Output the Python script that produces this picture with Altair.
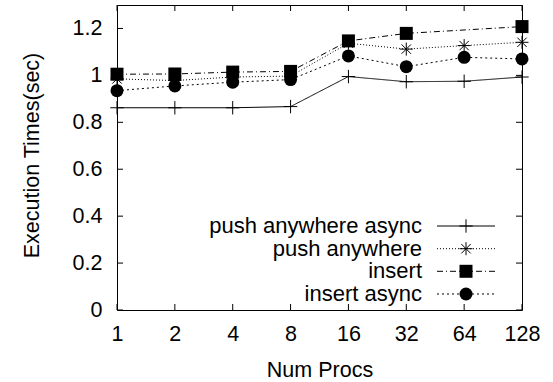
import altair as alt
import pandas as pd

# ---- data ----
procs = ["1", "2", "4", "8", "16", "32", "64", "128"]
series_names = ["push anywhere async", "push anywhere", "insert", "insert async"]
push_anywhere_async = [0.862, 0.862, 0.862, 0.867, 0.995, 0.973, 0.975, 0.993]
push_anywhere = [0.985, 0.978, 0.993, 0.997, 1.137, 1.112, 1.127, 1.141]
insert = [1.005, 1.006, 1.014, 1.017, 1.147, 1.179, None, 1.208]
insert_async = [0.935, 0.955, 0.971, 0.982, 1.083, 1.037, 1.077, 1.070]
y_ticks = [0, 0.2, 0.4, 0.6, 0.8, 1.0, 1.2]

values = [push_anywhere_async, push_anywhere, insert, insert_async]
rows = []
for name, vals in zip(series_names, values):
    for p, v in zip(procs, vals):
        if v is not None:
            rows.append({"series": name, "procs": p, "time": v})
df = pd.DataFrame(rows)

# ---- styles ----
FONT = "Liberation Sans"
FS = 21.5
LFS = 22
W, H = 405, 305
PLUS = "M-1,0H1M0,-1V1"
STAR = "M-1,0H1M0,-1V1M-0.72,-0.72L0.72,0.72M-0.72,0.72L0.72,-0.72"
dashes = [[1, 0], [1, 2], [6, 3, 1, 3], [2, 3]]
shapes = [PLUS, STAR, "square", "circle"]
filled = [False, False, True, True]
msize = [180, 169, 169, 169]

x_enc = alt.X(
    "procs:O", sort=procs, scale=alt.Scale(type="point", padding=0),
    axis=alt.Axis(title="Num Procs", labelAngle=0, labelBaseline="alphabetic",
                  labelPadding=30, titleY=66, titleBaseline="alphabetic"),
)
y_scale = alt.Scale(domain=[0, 1.3], nice=False, zero=False)
y_axis = alt.Axis(title="Execution Times(sec)", values=y_ticks, format="~g",
                  labelPadding=15, titleAngle=-90, titleX=-79, titleY=150,
                  titleAlign="center", titleBaseline="alphabetic")
y_enc = alt.Y("time:Q", scale=y_scale, axis=y_axis)

layers = []
for i, name in enumerate(series_names):
    sub = df[df["series"] == name]
    base = alt.Chart(sub)
    layers.append(base.mark_line(color="black", strokeWidth=1, strokeDash=dashes[i])
                  .encode(x=x_enc, y=y_enc))
    layers.append(base.mark_point(shape=shapes[i], filled=filled[i], size=msize[i],
                                  color="black", strokeWidth=1, opacity=1)
                  .encode(x=x_enc, y=y_enc))

# inward ticks (gnuplot style) on all four sides
ydf = pd.DataFrame({"time": y_ticks})
xdf = pd.DataFrame({"procs": procs})
TL = 6
layers.append(alt.Chart(ydf).mark_rule(color="black", strokeWidth=1)
              .encode(x=alt.value(0), x2=alt.value(TL), y=y_enc))
layers.append(alt.Chart(ydf).mark_rule(color="black", strokeWidth=1)
              .encode(x=alt.value(W - TL), x2=alt.value(W), y=y_enc))
layers.append(alt.Chart(xdf).mark_rule(color="black", strokeWidth=1)
              .encode(x=x_enc, y=alt.value(0), y2=alt.value(TL)))
layers.append(alt.Chart(xdf).mark_rule(color="black", strokeWidth=1)
              .encode(x=x_enc, y=alt.value(H - TL), y2=alt.value(H)))

# legend (gnuplot style, inside the plot)
leg_rows = [221, 243.7, 266.3, 289]
for i, name in enumerate(series_names):
    row = pd.DataFrame({"label": [name]})
    b = alt.Chart(row)
    layers.append(b.mark_text(align="right", baseline="middle", font=FONT, fontSize=LFS,
                              color="black")
                  .encode(x=alt.value(305), y=alt.value(leg_rows[i]), text="label:N"))
    layers.append(b.mark_rule(color="black", strokeWidth=1, strokeDash=dashes[i])
                  .encode(x=alt.value(320), x2=alt.value(378), y=alt.value(leg_rows[i])))
    layers.append(b.mark_point(shape=shapes[i], filled=filled[i], size=msize[i],
                               color="black", strokeWidth=1, opacity=1)
                  .encode(x=alt.value(349), y=alt.value(leg_rows[i])))

chart = alt.layer(*layers).properties(
    width=W, height=H,
    autosize=alt.AutoSizeParams(type="none"),
    padding={"left": 117, "top": 5, "right": 31, "bottom": 72},
    background="white",
).configure_view(
    stroke="black", strokeWidth=1
).configure_axis(
    domain=False, ticks=False, grid=False,
    labelFont=FONT, labelFontSize=FS, labelColor="black",
    titleFont=FONT, titleFontSize=FS, titleColor="black", titleFontWeight="normal",
)

chart.save("out.html", embed_options={"renderer": "svg", "actions": False})
